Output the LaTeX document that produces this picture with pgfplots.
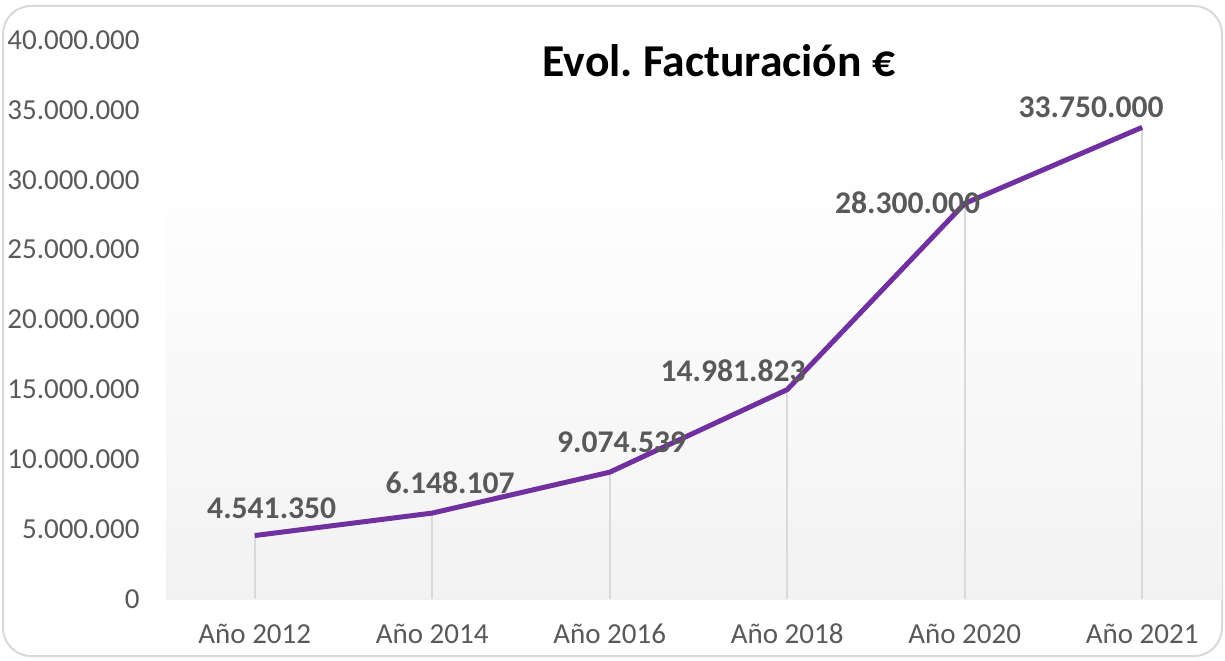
\documentclass[border=0pt]{standalone}
\usepackage{pgfplots}
\usepackage{pgfplotstable}
\pgfplotsset{compat=1.18}
\usepackage{fontspec}
\setmainfont{Carlito}
\frenchspacing
\definecolor{purp}{HTML}{7030A0}
\definecolor{txt}{HTML}{595959}
\definecolor{framec}{HTML}{D9D9D9}

\pgfplotstableread{
x y lab dx dy
0 4541350 4.541.350 8.5 13.5
1 6148107 6.148.107 9 15
2 9074539 9.074.539 6 15
3 14981823 14.981.823 -27 9.5
4 28300000 28.300.000 -28.5 0.5
5 33750000 33.750.000 -25.5 10
}\datatable

\begin{document}
\begin{tikzpicture}
\useasboundingbox (0,0) rectangle (612.5pt,330pt);
\draw[framec, line width=1pt, rounded corners=14pt] (1.5pt,2pt) rectangle (611pt,327pt);
\begin{axis}[
  at={(83pt,30.5pt)}, anchor=south west,
  scale only axis, width=528pt, height=279.5pt,
  xmin=-0.5, xmax=5.45, ymin=0, ymax=40000000,
  clip=false, scaled y ticks=false,
  axis x line*=bottom, axis y line*=left,
  axis line style={-},
  x axis line style={draw=framec, line width=1pt},
  y axis line style={draw=none},
  major tick length=0pt,
  xtick={0,1,2,3,4,5},
  xticklabels={Año 2012,Año 2014,Año 2016,Año 2018,Año 2020,Año 2021},
  ytick={0,5000000,10000000,15000000,20000000,25000000,30000000,35000000,40000000},
  yticklabels={0,5.000.000,10.000.000,15.000.000,20.000.000,25.000.000,30.000.000,35.000.000,40.000.000},
  yticklabel style={inner sep=0pt, anchor=east, xshift=-13pt, text=txt, font=\fontsize{14.5}{16}\selectfont},
  xticklabel style={inner sep=0pt, anchor=center, yshift=-17.5pt, text=txt, font=\fontsize{14.5}{16}\selectfont},
]
\fill[top color=white, bottom color=gray!10] (axis cs:-0.5,0) rectangle (axis cs:5.45,31400000);
\addplot[ycomb, draw=framec, line width=1pt, mark=none] table[x=x,y=y]{\datatable};
\addplot[purp, line width=2.5pt, line join=round, mark=none,
  nodes near coords, point meta=explicit symbolic,
  visualization depends on={\thisrow{dx}\as\dx},
  visualization depends on={\thisrow{dy}\as\dy},
  every node near coord/.append style={anchor=center, xshift=\dx pt, yshift=\dy pt,
    font=\bfseries\fontsize{15.8}{18}\selectfont, text=txt}]
  table[x=x,y=y,meta=lab]{\datatable};
\end{axis}
\node[anchor=base, font=\bfseries\fontsize{22.8}{26}\selectfont] at (359.5pt,291.5pt) {Evol. Facturación €};
\end{tikzpicture}
\end{document}
